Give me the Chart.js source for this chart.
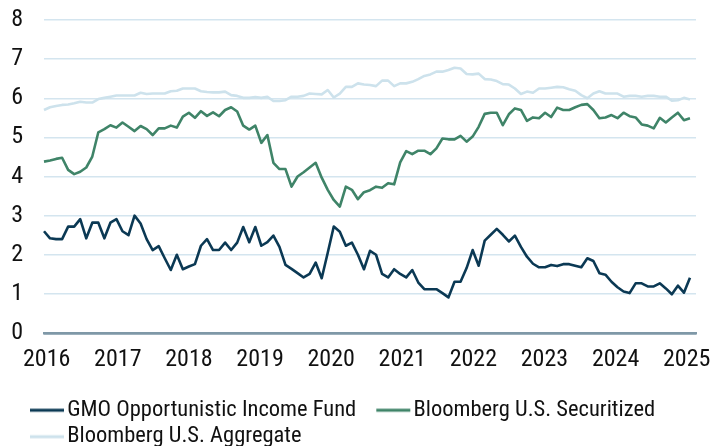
<!DOCTYPE html>
<html>
<head>
<meta charset="utf-8">
<script src="https://cdn.jsdelivr.net/npm/chart.js@4.4.1/dist/chart.umd.min.js"></script>
<style>
  html, body { margin: 0; padding: 0; background: #fff; }
  #wrap { width: 712px; height: 446px; }
</style>
</head>
<body>
<div id="wrap"><canvas id="chart" width="712" height="446"></canvas></div>
<script>
// monthly observations, Jan 2016 .. Dec 2024 (values in %)
const years = ["2016", "2017", "2018", "2019", "2020", "2021", "2022", "2023", "2024", "2025"];

const gmoIncome = [
  2.6, 2.42, 2.4, 2.4, 2.72, 2.72, 2.91, 2.42, 2.82, 2.82,
  2.42, 2.82, 2.91, 2.6, 2.5, 3.0, 2.8, 2.4, 2.12, 2.22,
  1.91, 1.61, 2.0, 1.63, 1.7, 1.76, 2.23, 2.4, 2.12, 2.12,
  2.31, 2.12, 2.31, 2.71, 2.32, 2.71, 2.23, 2.32, 2.49, 2.2,
  1.74, 1.64, 1.53, 1.42, 1.51, 1.8, 1.4, 2.05, 2.72, 2.59,
  2.23, 2.31, 2.0, 1.63, 2.1, 2.0, 1.51, 1.42, 1.63, 1.51,
  1.42, 1.61, 1.29, 1.12, 1.12, 1.12, 1.02, 0.91, 1.31, 1.31,
  1.66, 2.12, 1.72, 2.36, 2.51, 2.66, 2.51, 2.34, 2.49, 2.2,
  1.95, 1.77, 1.68, 1.68, 1.74, 1.71, 1.76, 1.76, 1.72, 1.68,
  1.91, 1.84, 1.53, 1.49, 1.31, 1.17, 1.06, 1.02, 1.27, 1.27,
  1.19, 1.19, 1.27, 1.14, 0.99, 1.21, 1.03, 1.41
];

const securitized = [
  4.38, 4.41, 4.45, 4.48, 4.17, 4.06, 4.12, 4.23, 4.51, 5.13,
  5.21, 5.31, 5.25, 5.38, 5.27, 5.16, 5.29, 5.21, 5.06, 5.23,
  5.23, 5.3, 5.25, 5.53, 5.63, 5.5, 5.67, 5.55, 5.64, 5.54,
  5.7, 5.77, 5.66, 5.3, 5.2, 5.3, 4.86, 5.06, 4.35, 4.19,
  4.19, 3.74, 4.0, 4.11, 4.23, 4.35, 3.97, 3.66, 3.4, 3.23,
  3.74, 3.66, 3.42, 3.6, 3.65, 3.74, 3.71, 3.83, 3.8, 4.36,
  4.65, 4.57, 4.66, 4.66, 4.57, 4.72, 4.97, 4.95, 4.95, 5.04,
  4.89, 5.02, 5.27, 5.6, 5.63, 5.63, 5.31, 5.59, 5.74, 5.7,
  5.42, 5.51, 5.49, 5.63, 5.52, 5.76, 5.7, 5.7, 5.77, 5.83,
  5.85, 5.7, 5.49, 5.51, 5.57, 5.49, 5.63, 5.54, 5.51, 5.33,
  5.3, 5.23, 5.5, 5.38, 5.51, 5.63, 5.44, 5.49
];

const aggregate = [
  5.7, 5.77, 5.8, 5.83, 5.84, 5.87, 5.91, 5.89, 5.89, 5.98,
  6.01, 6.04, 6.07, 6.07, 6.07, 6.07, 6.14, 6.11, 6.12, 6.12,
  6.12, 6.18, 6.19, 6.25, 6.25, 6.25, 6.18, 6.16, 6.15, 6.15,
  6.17, 6.08, 6.06, 6.01, 6.01, 6.03, 6.01, 6.04, 5.93, 5.93,
  5.95, 6.04, 6.04, 6.06, 6.12, 6.11, 6.1, 6.21, 6.02, 6.12,
  6.29, 6.29, 6.38, 6.35, 6.34, 6.31, 6.45, 6.45, 6.31, 6.38,
  6.38, 6.42, 6.49, 6.57, 6.61, 6.68, 6.68, 6.72, 6.78, 6.76,
  6.62, 6.61, 6.63, 6.49, 6.48, 6.44, 6.36, 6.35, 6.25, 6.11,
  6.17, 6.14, 6.25, 6.25, 6.27, 6.29, 6.28, 6.23, 6.19, 6.08,
  6.0, 6.12, 6.18, 6.12, 6.12, 6.12, 6.04, 6.06, 6.06, 6.04,
  6.06, 6.06, 6.04, 6.04, 5.94, 5.95, 6.01, 5.97
];

// month labels; the last one (Jan 2025) only carries the axis end
const labels = [];
for (let y = 0; y < years.length - 1; y++) {
  for (let m = 1; m <= 12; m++) labels.push(years[y] + "-" + String(m).padStart(2, "0"));
}
labels.push(years[years.length - 1] + "-01");

const FONT = "'Roboto Condensed', 'Liberation Sans Narrow', Roboto, sans-serif";
const NAVY = "#0b3954";
const GREEN = "#3f8468";
const LIGHT = "#cde2ec";
const GRID = "#d4e5ef";
const ZERO = "#7f98a7";
const TEXT = "#111";

// legend swatch: a short line sitting right against the label text
function swatch(color) {
  const c = document.createElement("canvas");
  c.width = 100; c.height = 6;
  const g = c.getContext("2d");
  g.fillStyle = color;
  g.fillRect(45, 1.5, 34, 3);
  return c;
}

function series(label, data, color) {
  return {
    label, data,
    borderColor: color, backgroundColor: color,
    borderWidth: 2.6, pointRadius: 0, tension: 0,
    borderJoinStyle: "round",
    pointStyle: swatch(color),
  };
}

new Chart(document.getElementById("chart"), {
  type: "line",
  data: {
    labels,
    datasets: [
      series("GMO Opportunistic Income Fund", gmoIncome, NAVY),
      series("Bloomberg U.S. Securitized", securitized, GREEN),
      series("Bloomberg U.S. Aggregate", aggregate, LIGHT),
    ],
  },
  options: {
    responsive: false,
    animation: false,
    layout: { padding: { left: 10, right: 16, top: 0, bottom: 0 } },
    plugins: {
      tooltip: { enabled: false },
      legend: {
        position: "bottom",
        align: "start",
        maxHeight: 51,
        labels: {
          color: TEXT,
          font: { family: FONT, size: 22.5 },
          usePointStyle: true,
          pointStyleWidth: 42,
          boxHeight: 6,
          padding: 4,
        },
      },
    },
    scales: {
      // month axis carrying the lines; its labels are hidden
      x: {
        afterFit: s => { s.height = 0; s.paddingLeft = 0; s.paddingRight = 0; },
        ticks: { display: false },
        grid: { display: false, drawTicks: false },
        border: { color: ZERO, width: 2.5 },
      },
      // year label axis (the source spaces the year labels slightly tighter than the months)
      yr: {
        type: "linear",
        position: "bottom",
        min: 2015.962, max: 2025.131,
        afterBuildTicks: s => { s.ticks = years.map(y => ({ value: +y })); },
        afterFit: s => { s.height = 62; s.paddingLeft = 0; s.paddingRight = 0; },
        ticks: {
          color: TEXT,
          font: { family: FONT, size: 24 },
          maxRotation: 0, padding: 13,
          callback: v => String(v),
        },
        grid: { display: false, drawTicks: false },
        border: { display: false },
      },
      y: {
        min: 0, max: 8,
        afterFit: s => { s.width = 34; s.paddingTop = 20; },
        ticks: {
          stepSize: 1, color: TEXT,
          font: { family: FONT, size: 24 },
          padding: 21,
        },
        grid: {
          drawTicks: false,
          color: c => c.tick.value === 0 ? ZERO : GRID,
          lineWidth: c => c.tick.value === 0 ? 2.5 : 1.5,
        },
        border: { display: false },
      },
    },
  },
});
</script>
</body>
</html>
